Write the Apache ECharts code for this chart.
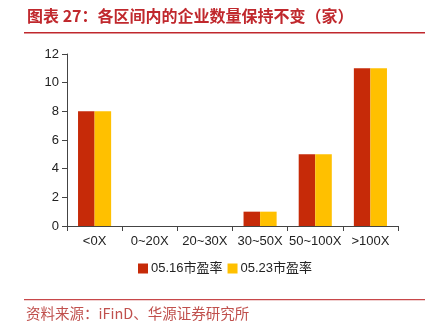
<!DOCTYPE html>
<html><head><meta charset="utf-8">
<script src="https://cdn.jsdelivr.net/npm/echarts@6/dist/echarts.min.js"></script>
<style>html,body{margin:0;padding:0;background:#fff}#c{width:433px;height:329px}</style>
</head><body><div id="c"></div>
<script>
const categories = ['<0X', '0~20X', '20~30X', '30~50X', '50~100X', '>100X'];
const series0516 = [8, 0, 0, 1, 5, 11];
const series0523 = [8, 0, 0, 1, 5, 11];
const seriesNames = ['05.16市盈率', '05.23市盈率'];
const titleText = '图表 27：各区间内的企业数量保持不变（家）';
const sourceText = '资料来源：iFinD、华源证券研究所';

const chart = echarts.init(document.getElementById('c'));
const axisFont = {fontFamily: 'Liberation Sans, Arial, sans-serif', fontSize: 13, color: '#222'};
chart.setOption({
  animation: false,
  grid: {left: 67, right: 35, top: 54, bottom: 103},
  legend: {
    data: seriesNames, bottom: 49, left: 133, itemWidth: 10, itemHeight: 10, itemGap: 5,
    textStyle: {fontFamily: 'Liberation Sans, Noto Sans CJK SC, sans-serif', fontSize: 13, color: '#222', padding: [0,0,0,-2]},
    icon: 'rect'
  },
  xAxis: {
    type: 'category', data: categories,
    axisLine: {lineStyle: {color: '#444'}},
    axisTick: {show: true, length: 5, lineStyle: {color: '#444'}},
    axisLabel: Object.assign({margin: 9, interval: 0, hideOverlap: false}, axisFont)
  },
  yAxis: {
    type: 'value', min: 0, max: 12, interval: 2,
    splitLine: {show: false},
    axisLine: {show: true, lineStyle: {color: '#444'}},
    axisTick: {show: true, length: 5, lineStyle: {color: '#444'}},
    axisLabel: Object.assign({margin: 8}, axisFont)
  },
  series: [
    {name: seriesNames[0], type: 'bar', data: series0516, barGap: '0%', barCategoryGap: '40%', itemStyle: {color: '#C62A08'}},
    {name: seriesNames[1], type: 'bar', data: series0523, itemStyle: {color: '#FFC000'}}
  ],
  graphic: [
    {type: 'text', left: 27, top: 8, style: {text: titleText, font: 'bold 16px "Noto Sans CJK SC", sans-serif', fill: '#C0282D'}},
    {type: 'rect', shape: {x: 24, y: 32, width: 401, height: 1.5}, style: {fill: '#C0282D'}},
    {type: 'rect', shape: {x: 24, y: 299, width: 401, height: 1.2}, style: {fill: '#C8484A'}},
    {type: 'text', left: 26, top: 306, style: {text: sourceText, font: '14.5px "Noto Sans CJK SC", sans-serif', fill: '#C0504D'}}
  ]
});
</script></body></html>
